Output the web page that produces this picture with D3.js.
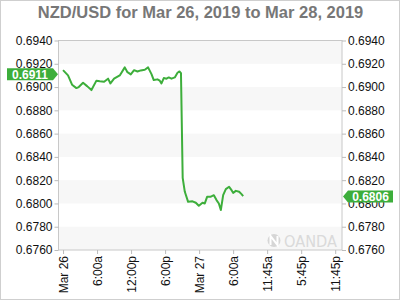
<!DOCTYPE html>
<html>
<head>
<meta charset="utf-8">
<script src="https://cdn.jsdelivr.net/npm/d3@7"></script>
<style>
  body { margin: 0; background: #fff; }
  svg text { font-family: "Liberation Sans", Arial, sans-serif; }
</style>
</head>
<body>
<div class="container"></div>
<script>
const width = 400, height = 300;
const margin = {top: 40.5, right: 58, bottom: 50, left: 58.5};

// hours since Mar 26 00:00 (compressed axis, 6h per tick)
const hours = [0, 0.88, 1.59, 2.36, 2.77, 3.53, 4.24, 5.01, 5.89, 6.48, 7.24, 7.94, 8.36, 9.0, 10.0,
  10.89, 11.36, 11.95, 12.53, 13.13, 13.71, 14.42, 15.0, 15.6, 16.0, 16.66, 17.06, 17.36, 17.77,
  18.25, 18.65, 19.13, 19.71, 20.19, 20.54, 20.8, 21.1, 21.48, 22.06, 22.84, 23.42, 23.95, 24.6,
  25.0, 25.41, 26.0, 26.6, 27.07, 27.48, 27.83, 28.24, 28.71, 29.29, 29.72, 30.0, 30.48, 31.06,
  31.48, 31.77];
const prices = [0.69145, 0.6910, 0.6902, 0.68991, 0.6900, 0.69037, 0.69008, 0.68974, 0.69055, 0.69049,
  0.69046, 0.69072, 0.69031, 0.69072, 0.6910, 0.69169, 0.69128, 0.69109, 0.69145, 0.69134, 0.69143,
  0.69149, 0.69169, 0.69111, 0.6906, 0.69066, 0.69055, 0.69031, 0.69077, 0.69072, 0.69083, 0.69072,
  0.69083, 0.69123, 0.69134, 0.6912, 0.6822, 0.6810, 0.68014, 0.68018, 0.68006, 0.6798, 0.68006,
  0.6800, 0.68057, 0.68057, 0.68071, 0.68029, 0.6800, 0.67943, 0.68071, 0.68123, 0.68143, 0.68114,
  0.68091, 0.68108, 0.6810, 0.6808, 0.68063];
const xTickHours = [0, 6, 12, 18, 24, 30, 36, 42, 48];
const xTickLabels = ["Mar 26", "6:00a", "12:00p", "6:00p", "Mar 27", "6:00a", "11:45a", "5:45p", "11:45p"];
const yTicks = [0.6760, 0.6780, 0.6800, 0.6820, 0.6840, 0.6860, 0.6880, 0.6900, 0.6920, 0.6940];
const openPrice = 0.6911, lastPrice = 0.6806;

const green = "#3dae3b";
const data = hours.map((h, i) => ({h: h, v: prices[i]}));

const svg = d3.select(".container")
    .append("svg")
    .attr("width", width)
    .attr("height", height);

svg.append("rect")
    .attr("x", 0.5).attr("y", 0.5)
    .attr("width", width - 1).attr("height", height - 1)
    .attr("fill", "#fff").attr("stroke", "#cfcfcf");

const x = d3.scaleLinear().domain([-0.8, 49.2]).range([margin.left, width - margin.right]);
const y = d3.scaleLinear().domain([0.6760, 0.6940]).range([height - margin.bottom, margin.top]);

// alternating bands
const bands = d3.range(0, yTicks.length - 1).filter(i => i % 2 === 0);
svg.append("g").selectAll("rect")
    .data(bands)
    .enter()
    .append("rect")
    .attr("x", x.range()[0])
    .attr("width", x.range()[1] - x.range()[0])
    .attr("y", i => y(yTicks[i + 1]))
    .attr("height", i => y(yTicks[i]) - y(yTicks[i + 1]))
    .attr("fill", "#f7f7f7");

// frame
svg.append("rect")
    .attr("x", x.range()[0]).attr("y", y.range()[1])
    .attr("width", x.range()[1] - x.range()[0])
    .attr("height", y.range()[0] - y.range()[1])
    .attr("fill", "none").attr("stroke", "#c8c8c8");

// watermark
const wm = svg.append("g").attr("fill", "#d6d6d6");
wm.append("circle").attr("cx", 274).attr("cy", 240.5).attr("r", 6.5);
wm.append("path").attr("d", "M270.5,245 L270.5,236 L277.5,245 L277.5,236")
    .attr("fill", "none").attr("stroke", "#fff").attr("stroke-width", 2);
wm.append("text").attr("x", 284).attr("y", 246.5)
    .attr("textLength", 53).attr("lengthAdjust", "spacingAndGlyphs")
    .style("font-size", "15px").style("font-family", "DejaVu Sans, sans-serif")
    .attr("fill", "#dadada").text("OANDA");

// axes
const yLeft = d3.axisLeft(y).tickValues(yTicks).tickFormat(d3.format(".4f")).tickSize(4).tickPadding(2);
const yRight = d3.axisRight(y).tickValues(yTicks).tickFormat(d3.format(".4f")).tickSize(4).tickPadding(2);
const xAxis = d3.axisBottom(x).tickValues(xTickHours).tickFormat((d, i) => xTickLabels[i]).tickSize(4);

const styleAxis = g => {
  g.select(".domain").remove();
  g.selectAll(".tick line").attr("stroke", "#bbb");
  g.selectAll("text").attr("fill", "#111").style("font-size", "12px");
};

svg.append("g").attr("transform", `translate(${x.range()[0]},0)`).call(yLeft).call(styleAxis);
svg.append("g").attr("transform", `translate(${x.range()[1]},0)`).call(yRight).call(styleAxis);
svg.append("g").attr("transform", `translate(0,${y.range()[0]})`).call(xAxis).call(styleAxis)
    .selectAll("text")
    .attr("transform", "rotate(-90)")
    .attr("text-anchor", "end")
    .attr("x", -6).attr("y", 0).attr("dy", "0.35em");

// price line
const line = d3.line().x(d => x(d.h)).y(d => y(d.v));
svg.append("path")
    .datum(data)
    .attr("fill", "none")
    .attr("stroke", green)
    .attr("stroke-width", 2)
    .attr("stroke-linejoin", "round")
    .attr("d", line);

// price labels
const openY = y(openPrice), lastY = y(lastPrice);
svg.append("path")
    .attr("d", `M7,${openY - 6} H53 L58,${openY} L53,${openY + 6} H7 Z`)
    .attr("fill", green);
svg.append("text").attr("x", 30).attr("y", openY + 4.5)
    .attr("text-anchor", "middle").attr("fill", "#fff")
    .style("font-size", "12px").style("font-weight", "bold").text(openPrice.toFixed(4));

svg.append("path")
    .attr("d", `M343,${lastY} L348,${lastY - 6} H393 V${lastY + 6} H348 Z`)
    .attr("fill", green);
svg.append("text").attr("x", 370.5).attr("y", lastY + 4.5)
    .attr("text-anchor", "middle").attr("fill", "#fff")
    .style("font-size", "12px").style("font-weight", "bold").text(lastPrice.toFixed(4));

// title
svg.append("text")
    .attr("x", 200.5).attr("y", 18)
    .attr("text-anchor", "middle")
    .attr("fill", "#777")
    .style("font-size", "16.5px").style("font-weight", "bold")
    .text("NZD/USD for Mar 26, 2019 to Mar 28, 2019");
</script>
</body>
</html>
